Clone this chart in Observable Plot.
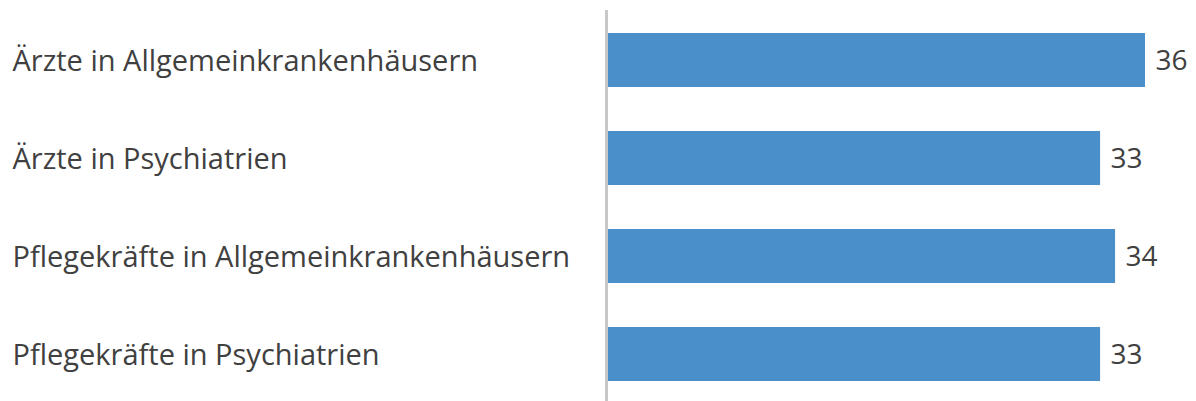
<!DOCTYPE html>
<html>
<head>
<meta charset="utf-8">
<script src="https://cdn.jsdelivr.net/npm/d3@7"></script>
<script src="https://cdn.jsdelivr.net/npm/@observablehq/plot@0.6"></script>
<style>
  html, body { margin: 0; padding: 0; background: #fff; }
  #chart svg { display: block; }
</style>
</head>
<body>
<div id="chart"></div>
<script>
const categories = [
  "Ärzte in Allgemeinkrankenhäusern",
  "Ärzte in Psychiatrien",
  "Pflegekräfte in Allgemeinkrankenhäusern",
  "Pflegekräfte in Psychiatrien"
];
const values = [36, 33, 34, 33];

const data = categories.map((c, i) => ({category: c, value: values[i]}));

const font = "'Open Sans', sans-serif";
const chart = Plot.plot({
  width: 1196,
  height: 401,
  marginLeft: 606,
  marginRight: 51,
  marginTop: 10,
  marginBottom: 0,
  style: {fontFamily: font, background: "#fff"},
  x: {domain: [0, 36], axis: null},
  y: {domain: categories, range: [9.8, 404.6], paddingInner: 0.45, paddingOuter: 0.225, axis: null},
  marks: [
    Plot.barX(data, {y: "category", x: "value", fill: "#4a8fca", insetLeft: 1.5}),
    Plot.ruleX([0], {stroke: "#c8c8c8", strokeWidth: 3}),
    Plot.text(data, {y: "category", text: "category", frameAnchor: "left", textAnchor: "start", dx: -594, dy: 1, fontSize: 29, fill: "#404040"}),
    Plot.text(data, {y: "category", x: "value", text: d => String(d.value), textAnchor: "start", dx: 10, dy: 1, fontSize: 28, fill: "#404040"})
  ]
});
document.getElementById("chart").appendChild(chart);
</script>
</body>
</html>
